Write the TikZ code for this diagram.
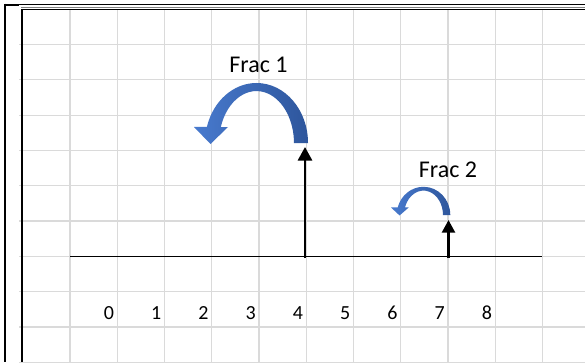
\documentclass[tikz,border=0pt]{standalone}
\usepackage{fontspec}
\setmainfont{Carlito}
\usetikzlibrary{arrows.meta}
\definecolor{gridgray}{RGB}{218,218,218}
\definecolor{arrowlight}{RGB}{72,122,206}
\definecolor{arrowdark}{RGB}{46,86,156}
\tikzset{
  gridline/.style={draw=gridgray,line width=1.2pt},
  frameline/.style={draw=black,line width=#1},
  jumparrow/.style={shade,shading=axis,shading angle=90,left color=arrowlight,right color=arrowdark,draw=none},
  uparrow/.style={draw=black,line width=2.6pt,-{Triangle[width=14pt,length=13.5pt]}},
  fraclabel/.style={font=\fontsize{24}{28}\selectfont,inner sep=0pt,anchor=base},
  numlabel/.style={font=\fontsize{20}{24}\selectfont,inner sep=0pt,anchor=base east}
}
\begin{document}
\begin{tikzpicture}[x=1pt,y=1pt]
\useasboundingbox (0,0) rectangle (585,362);
\fill[white] (0,0) rectangle (585,362);
% grid
\foreach \k in {0,...,10}{
  \draw[gridline] ({70+47.24*\k},0) -- ({70+47.24*\k},353);
}
\foreach \k in {0,...,9}{
  \draw[gridline] (19,{317.5-35.3*\k}) -- (585,{317.5-35.3*\k});
}
% frame
\draw[frameline=1pt] (4,357.3) -- (585,357.3);
\draw[frameline=2pt] (4,357.3) -- (19,357.3);
\draw[frameline=2pt] (5,358.3) -- (5,0);
\draw[draw=gray,line width=1pt] (21,354) -- (585,354);
\draw[frameline=1.5pt] (21,352.5) -- (585,352.5);
\draw[frameline=2pt] (22,353) -- (22,0);
% axis
\coordinate (axL) at (70,106);
\coordinate (axR) at (542.4,106);
\draw[black,line width=1pt] (axL) -- (axR);
% numbers
\foreach \n in {0,...,8}{
  \node[numlabel] (n\n) at ({114.2+47.24*\n},43) {\n};
}
% jump arrow 1
\begin{scope}[shift={(256.5,219)}]
  \path[jumparrow] (51.5,0) arc[start angle=0,end angle=164.5,x radius=51.5,y radius=60]
    -- (-62.5,16) -- (-46,-1) -- (-28.5,16) -- (-35.7,16)
    arc[start angle=162,end angle=0,x radius=37.5,y radius=52] -- cycle;
\end{scope}
% jump arrow 2
\begin{scope}[shift={(423.5,147)},xscale=0.52,yscale=0.47]
  \path[jumparrow] (51.5,0) arc[start angle=0,end angle=164.5,x radius=51.5,y radius=60]
    -- (-62.5,16) -- (-46,-1) -- (-28.5,16) -- (-35.7,16)
    arc[start angle=162,end angle=0,x radius=37.5,y radius=52] -- cycle;
\end{scope}
% vertical arrows
\coordinate (b1) at (305,104);
\coordinate (t1) at (305,215);
\coordinate (b2) at (448.5,104);
\coordinate (t2) at (448.5,142);
\draw[uparrow] (b1) -- (t1);
\draw[uparrow,-{Triangle[width=13pt,length=12.7pt]}] (b2) -- (t2);
% labels
\node[fraclabel] (f1) at (258.5,289.7) {Frac 1};
\node[fraclabel] (f2) at (448,184.7) {Frac 2};
\end{tikzpicture}
\end{document}
